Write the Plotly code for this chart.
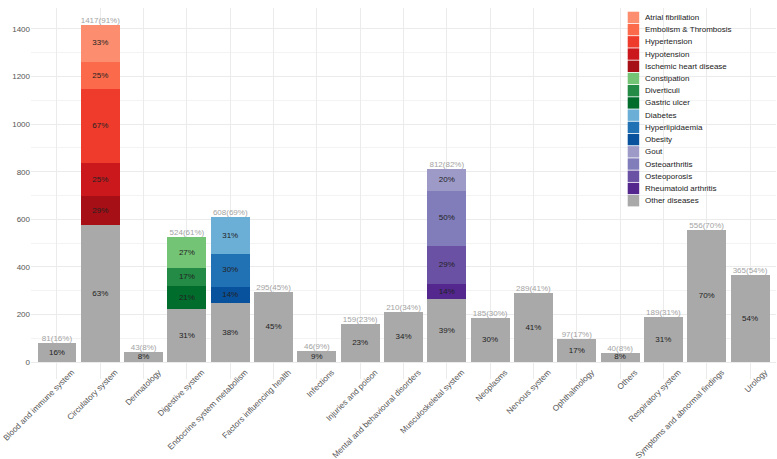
import plotly.graph_objects as go
import numpy as np

categories = ["Blood and immune system", "Circulatory system", "Dermatology", "Digestive system",
              "Endocrine system metabolism", "Factors influencing health", "Infections",
              "Injuries and poison", "Mental and behavioural disorders", "Musculoskeletal system",
              "Neoplasms", "Nervous system", "Ophthalmology", "Others", "Respiratory system",
              "Symptoms and abnormal findings", "Urology"]

totals = [81, 1417, 43, 524, 608, 295, 46, 159, 210, 812, 185, 289, 97, 40, 189, 556, 365]
total_pct = [16, 91, 8, 61, 69, 45, 9, 23, 34, 82, 30, 41, 17, 8, 31, 70, 54]

other_values = [81, 576, 43, 222, 249, 295, 46, 159, 210, 264, 185, 289, 97, 40, 189, 556, 365]
other_pct = [16, 63, 8, 31, 38, 45, 9, 23, 34, 39, 30, 41, 17, 8, 31, 70, 54]

# sub-diseases in legend order
sub_names = ["Atrial fibrillation", "Embolism & Thrombosis", "Hypertension", "Hypotension",
             "Ischemic heart disease", "Constipation", "Diverticuli", "Gastric ulcer",
             "Diabetes", "Hyperlipidaemia", "Obesity", "Gout", "Osteoarthritis",
             "Osteoporosis", "Rheumatoid arthritis"]
sub_category = ["Circulatory system"] * 5 + ["Digestive system"] * 3 + \
               ["Endocrine system metabolism"] * 3 + ["Musculoskeletal system"] * 4
sub_values = [155, 116, 311, 137, 122, 127, 77, 98, 154, 137, 68, 92, 231, 161, 64]
sub_pct = [33, 25, 67, 25, 29, 27, 17, 21, 31, 30, 14, 20, 50, 29, 14]
sub_colors = ["#FC8D6E", "#FB6A4A", "#EF3B2C", "#CB181D", "#A50F15",
              "#74C476", "#238B45", "#006D2C",
              "#6BAED6", "#2171B5", "#08519C",
              "#9E9AC8", "#807DBA", "#6A51A3", "#54278F"]
other_name = "Other diseases"
other_color = "#A9A9A9"

FONT = "Liberation Sans, Arial"
fig = go.Figure()

base = {c: 0.0 for c in categories}
label_x, label_y, label_t = [], [], []

fig.add_trace(go.Bar(x=categories, y=other_values, marker=dict(color=other_color, line=dict(width=0)),
                     width=0.9, name=other_name, showlegend=False, hoverinfo="skip"))
for c, v, p in zip(categories, other_values, other_pct):
    label_x.append(c); label_y.append(base[c] + v / 2); label_t.append(f"{p}%")
    base[c] += v

for i in reversed(range(len(sub_names))):
    c, v, p = sub_category[i], sub_values[i], sub_pct[i]
    fig.add_trace(go.Bar(x=[c], y=[v], marker=dict(color=sub_colors[i], line=dict(width=0)),
                         width=0.9, name=sub_names[i], showlegend=False, hoverinfo="skip"))
    label_x.append(c); label_y.append(base[c] + v / 2); label_t.append(f"{p}%")
    base[c] += v

fig.add_trace(go.Scatter(x=label_x, y=label_y, text=label_t, mode="text",
                         textposition="middle center",
                         textfont=dict(size=8, color="#222222", family=FONT),
                         showlegend=False, hoverinfo="skip", cliponaxis=False))
fig.add_trace(go.Scatter(x=categories, y=totals,
                         text=[f"{t}({p}%)" for t, p in zip(totals, total_pct)],
                         mode="text", textposition="top center",
                         textfont=dict(size=8, color="#A3A3A3", family=FONT),
                         showlegend=False, hoverinfo="skip", cliponaxis=False))

# plot area geometry (pixels)
W, H = 777, 459
L, R, T, B = 31, 1, 8, 80
pw, ph = W - L - R, H - T - B

def px_x(p):
    return (p - L) / pw

def px_y(p):
    return (H - B - p) / ph

# compact ggplot-like legend
leg_names = sub_names + [other_name]
leg_colors = sub_colors + [other_color]
shapes, annos = [], []
top0, pitch, kh = 11.7, 12.22, 11.4
for k, (n, col) in enumerate(zip(leg_names, leg_colors)):
    y0 = top0 + k * pitch
    shapes.append(dict(type="rect", xref="paper", yref="paper",
                       x0=px_x(627.7), x1=px_x(639.2), y0=px_y(y0 + kh), y1=px_y(y0),
                       fillcolor=col, line=dict(width=0)))
    annos.append(dict(xref="paper", yref="paper", x=px_x(643), y=px_y(y0 + kh / 2),
                      text=n, showarrow=False, xanchor="left", yanchor="middle",
                      font=dict(size=8, color="#222222", family=FONT)))

ymax = 1417
fig.update_layout(
    width=W, height=H,
    margin=dict(l=L, r=R, t=T, b=B, pad=0),
    barmode="stack", bargap=0.1,
    plot_bgcolor="white", paper_bgcolor="white",
    font=dict(family=FONT, size=8, color="#4D4D4D"),
    shapes=shapes, annotations=annos,
    xaxis=dict(type="category", categoryorder="array", categoryarray=categories,
               range=[-0.6, len(categories) - 0.4], showgrid=True, gridcolor="#EBEBEB",
               gridwidth=1, tickangle=-45, ticks="", showline=False, zeroline=False,
               automargin=False, ticklabelshift=15, ticklabelstandoff=-14,
               tickfont=dict(size=8.2, color="#555555")),
    yaxis=dict(range=[-0.05 * ymax, 1.05 * ymax], dtick=200, tick0=0, showgrid=True,
               gridcolor="#EBEBEB", gridwidth=1, zeroline=False, ticks="", showline=False,
               automargin=False, tickfont=dict(size=8, color="#555555"),
               minor=dict(dtick=100, showgrid=True, gridcolor="#F3F3F3", gridwidth=0.6)),
)

fig.write_html("out.html", config={"displayModeBar": False},
               post_script="document.body.style.margin='0px';")
